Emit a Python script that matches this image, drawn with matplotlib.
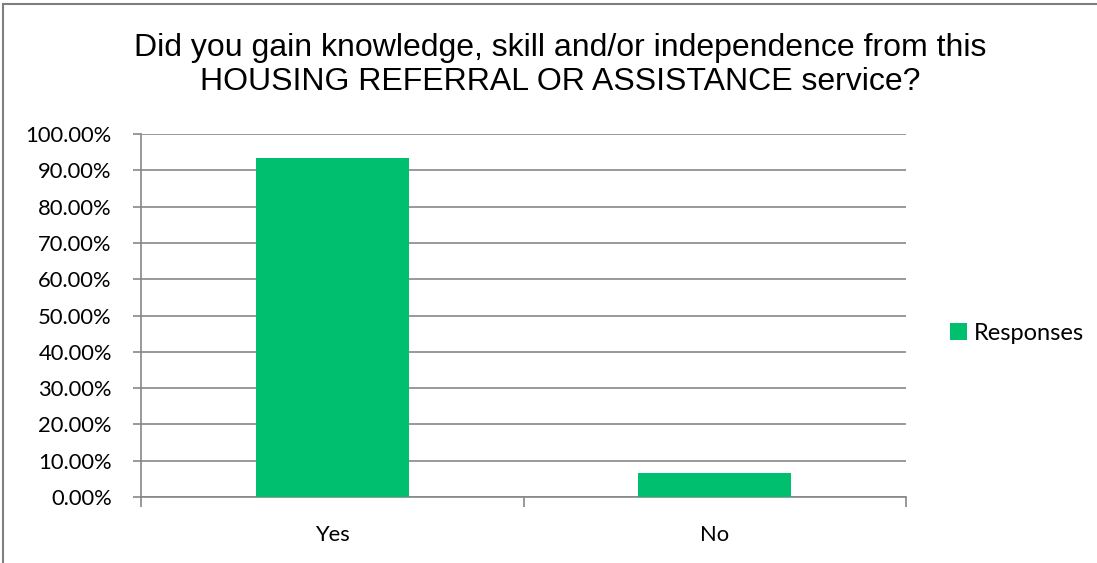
import matplotlib.pyplot as plt
from matplotlib.patches import Rectangle
from matplotlib.ticker import FuncFormatter

categories = ['Yes', 'No']
responses = [93.33, 6.67]
yticks = [0, 10, 20, 30, 40, 50, 60, 70, 80, 90, 100]

bar_color = '#00BF6F'
grid_color = '#878787'

fig = plt.figure(figsize=(10.97, 5.63), dpi=100)
ax = fig.add_axes([0.1285, 0.1172, 0.6975, 0.6448])

x = range(len(categories))
ax.bar(x, responses, width=0.4, color=bar_color, label='Responses', zorder=3)

ax.set_xlim(-0.5, 1.5)
ax.set_ylim(0, 100)
ax.set_yticks(yticks)
ax.yaxis.set_major_formatter(FuncFormatter(lambda v, p: f'{v:.2f}%'))
ax.yaxis.grid(True, color=grid_color, linewidth=1.2, zorder=0)

# category ticks sit between the bars, labels under the bars
ax.set_xticks([-0.5, 0.5, 1.5])
ax.set_xticklabels([])
ax.set_xticks(list(x), minor=True)
ax.set_xticklabels(categories, minor=True)
ax.tick_params(axis='x', which='major', length=7, color=grid_color, width=1.2)
ax.tick_params(axis='x', which='minor', length=0, pad=20)
ax.tick_params(axis='y', length=6, color=grid_color, width=1.2, pad=15)

for lbl in ax.get_xticklabels(minor=True) + ax.get_yticklabels():
    lbl.set_fontfamily('Lato')
    lbl.set_fontsize(15.8)
    lbl.set_color('#000000')

for s in ['top', 'right']:
    ax.spines[s].set_visible(False)
for s in ['left', 'bottom']:
    ax.spines[s].set_color(grid_color)
    ax.spines[s].set_linewidth(1.2)

fig.text(0.511, 0.885,
         'Did you gain knowledge, skill and/or independence from this\n'
         'HOUSING REFERRAL OR ASSISTANCE service?',
         ha='center', va='center', fontsize=23, family='Liberation Sans',
         linespacing=1.17)

leg = fig.legend(loc='center left', bbox_to_anchor=(0.8505, 0.408), frameon=False,
                 handlelength=0.75, handleheight=0.75, handletextpad=0.3,
                 borderaxespad=0.3, prop={'family': 'Lato', 'size': 17})

# outer chart border
fig.patches.append(Rectangle((0.003, -0.01), 1.2, 1.003, transform=fig.transFigure,
                             fill=False, edgecolor='#7f7f7f', linewidth=1.5))

fig.savefig('out.png', dpi=100)
